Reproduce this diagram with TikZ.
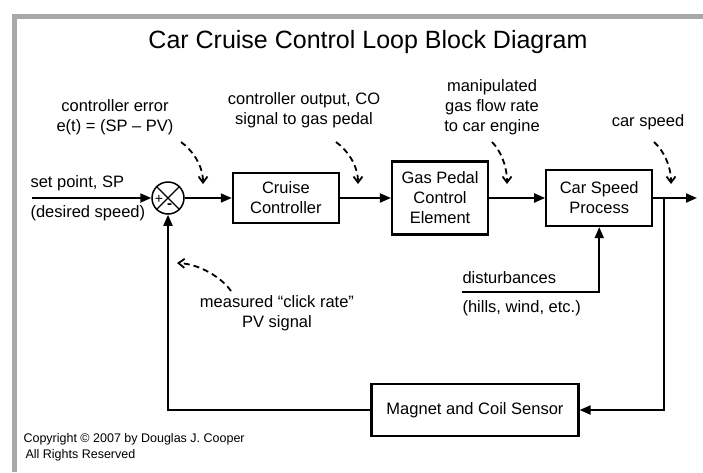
\documentclass[tikz,border=0pt]{standalone}
\usepackage{fontspec}
\setmainfont{Liberation Sans}
\usepackage{xcolor}
\usetikzlibrary{positioning,arrows.meta}
\definecolor{framegray}{RGB}{168,168,168}

\begin{document}
\begin{tikzpicture}[x=1pt, y=-1pt,
  every node/.style={font=\fontsize{16.5}{20}\selectfont},
  blk/.style={draw=black, line width=2.2pt, align=center, inner sep=2pt},
  lbl/.style={align=center},
  ar/.style={-{Triangle[length=11pt,width=9pt]}, line width=2pt},
  hint/.style={-{Straight Barb[length=6pt,width=9pt]}, line width=1.8pt,
    dash pattern=on 6pt off 4pt}
]
\useasboundingbox (0,0) rectangle (703,472);
\draw[line width=5pt, framegray] (14,472) -- (14,16) -- (703,16);

\node[font=\fontsize{25}{30}\selectfont] (title) at (368,42) {Car Cruise Control Loop Block Diagram};

% loop blocks
\node[draw, circle, line width=1.5pt, minimum size=32pt, inner sep=0pt] (sum) at (168,198) {};
\draw[line width=1.2pt] (sum.north west) -- (sum.south east);
\draw[line width=1.2pt] (sum.north east) -- (sum.south west);
\node[font=\fontsize{14}{14}\selectfont, inner sep=0pt] (plus) at ([xshift=-9pt,yshift=-1pt]sum.center) {+};
\node[font=\bfseries\fontsize{15}{15}\selectfont, inner sep=0pt] (minus) at ([xshift=1.5pt,yshift=-8pt]sum.center) {-};
\node[blk, minimum width=106pt, minimum height=50pt, right=47pt of sum] (cruise) {Cruise\\Controller};
\node[blk, minimum width=96pt, minimum height=73pt, right=51pt of cruise] (gas) {Gas Pedal\\Control\\Element};
\node[blk, minimum width=106pt, minimum height=56pt, right=56pt of gas] (car) {Car Speed\\Process};
\node[blk, minimum width=207pt, minimum height=52pt] (sensor) at (475,410) {Magnet and Coil Sensor};

% signal labels
\node[anchor=west] (spl) at (27,183) {set point, SP};
\node[anchor=west] (dsp) at (27,213) {(desired speed)};
\node[lbl] (err) at (115,117) {controller error\\e(t) = (SP – PV)};
\node[lbl] (co) at (304,110) {controller output, CO\\signal to gas pedal};
\node[lbl] (mv) at (492,107) {manipulated\\gas flow rate\\to car engine};
\node (cs) at (648,122) {car speed};
\node[lbl] (pv) at (277,313) {measured “click rate”\\PV signal};
\node[anchor=west] (dl) at (459,278) {disturbances};
\node[anchor=west] (hw) at (459,308) {(hills, wind, etc.)};
\node[anchor=west, font=\fontsize{12.5}{15}\selectfont] (copy) at (20,439) {Copyright © 2007 by Douglas J. Cooper};
\node[anchor=west, font=\fontsize{12.5}{15}\selectfont] (rights) at (22,455) {All Rights Reserved};

\coordinate (sp) at (32,198);
\coordinate (out) at (697,198);
\coordinate (tap) at (664,198);
\coordinate (dist) at (462,292);

\draw[ar] (sp) -- (sum);
\draw[ar] (sum) -- (cruise);
\draw[ar] (cruise) -- (gas);
\draw[ar] (gas) -- (car);
\draw[ar] (car) -- (out);
\draw[ar] (tap) |- (sensor);
\draw[ar] (sensor) -| (sum);
\draw[ar] (dist) -| (car);

% dashed pointers
\draw[hint] (181,142) .. controls (192,150) and (203,165) .. (203,184);
\draw[hint] (336,142) .. controls (347,150) and (358,165) .. (358,184);
\draw[hint] (492,142) .. controls (500,150) and (507,165) .. (507,184);
\draw[hint] (654,142) .. controls (663,150) and (671,165) .. (671,184);
\draw[hint] (231,291) .. controls (222,278) and (200,264) .. (177,263);
\end{tikzpicture}
\end{document}
